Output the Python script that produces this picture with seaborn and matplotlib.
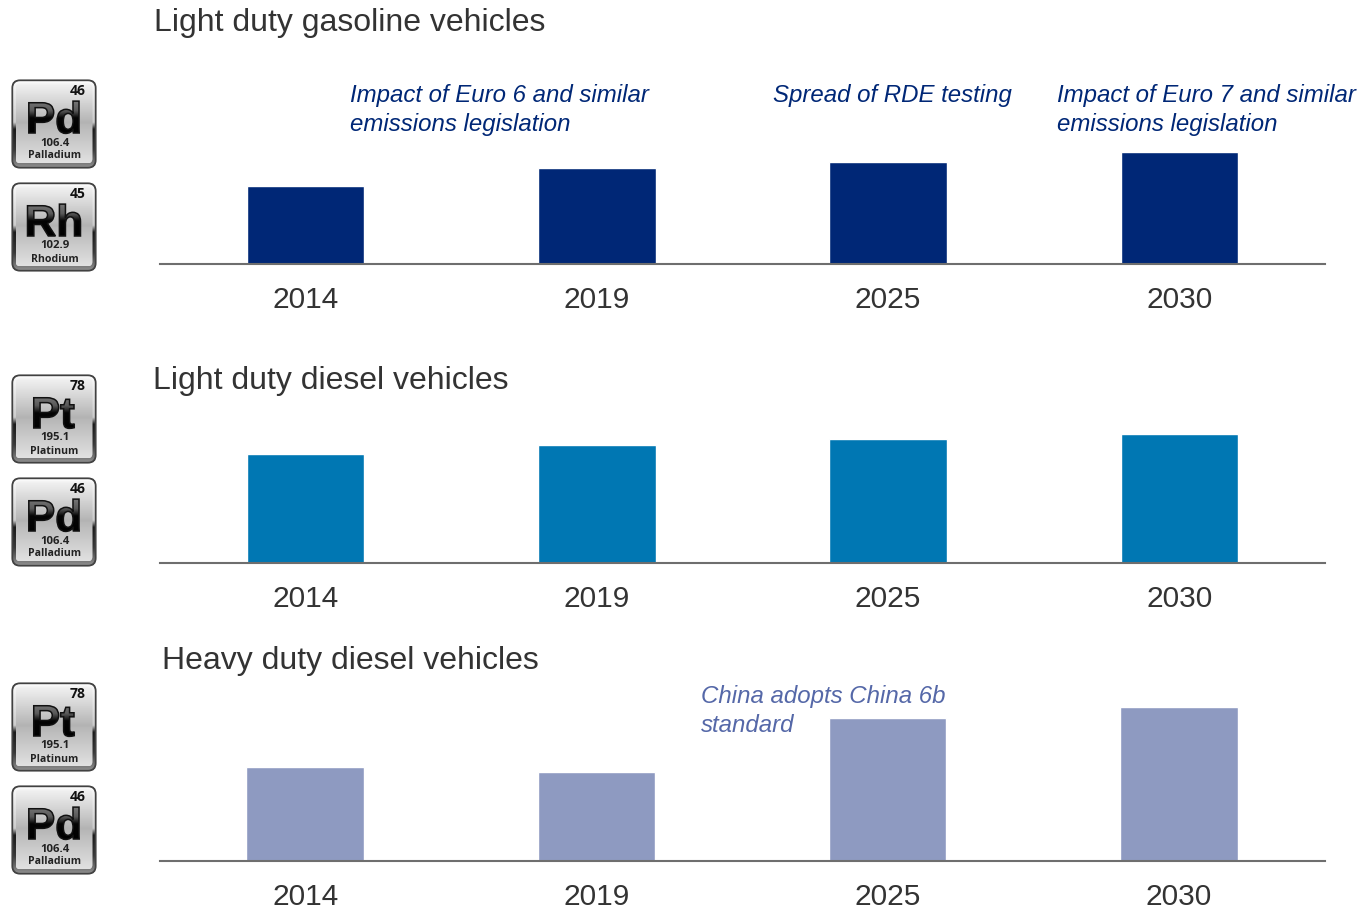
import matplotlib
matplotlib.use("Agg")
import matplotlib.pyplot as plt
import numpy as np
import pandas as pd
import seaborn as sns
from matplotlib.font_manager import FontProperties
from matplotlib.patches import FancyBboxPatch, PathPatch
from matplotlib.textpath import TextPath
from matplotlib.transforms import Affine2D

W, H = 1363, 910

years = ["2014", "2019", "2025", "2030"]
gasoline = [78, 96, 102, 112]
diesel = [109, 118, 124, 129]
heavy = [94, 89, 143, 154]

sns.set_theme(style="white")
plt.rcParams["font.family"] = ["Liberation Sans", "DejaVu Sans"]

fig = plt.figure(figsize=(W / 100, H / 100), dpi=100, facecolor="white")

# full figure axes in pixel coords, used for the element tiles
bg = fig.add_axes([0, 0, 1, 1], zorder=0)
bg.set_xlim(0, W)
bg.set_ylim(H, 0)
bg.axis("off")


def grad(stops, x0, y0, x1, y1, clip, zorder):
    ys = np.linspace(0, 1, 120)
    pos = [s[0] for s in stops]
    vals = [s[1] for s in stops]
    col = np.interp(ys, pos, vals).reshape(-1, 1)
    im = bg.imshow(col, extent=(x0, x1, y1, y0), cmap="gray", vmin=0, vmax=1,
                   aspect="auto", zorder=zorder, interpolation="bilinear")
    im.set_clip_path(clip)


def glyph(s, cx, base, size, weight="bold", family="Liberation Sans"):
    fp = FontProperties(family=family, weight=weight)
    tp = TextPath((0, 0), s, size=size, prop=fp)
    ext = tp.get_extents()
    tr = Affine2D().translate(-(ext.x0 + ext.x1) / 2, 0).scale(1, -1).translate(cx, base)
    return tp.transformed(tr)


def tile(x, y, num, sym, mass, name):
    w, h = 84, 88
    outer = FancyBboxPatch((x, y), w, h, boxstyle="round,pad=0,rounding_size=8",
                           fc="#4a4a4a", ec="#3a3a3a", lw=0.8, zorder=2)
    bg.add_patch(outer)
    ring = FancyBboxPatch((x + 1.2, y + 1.2), w - 2.4, h - 2.4, boxstyle="round,pad=0,rounding_size=7",
                          fc="none", ec="none", zorder=3, transform=bg.transData)
    bg.add_patch(ring)
    grad([(0, .98), (.48, .8), (.56, .1), (.8, .22), (1, .55)],
         x + 1.2, y + 1.2, x + w - 1.2, y + h - 1.2, ring, 3)
    inner = FancyBboxPatch((x + 3.5, y + 3.5), w - 7, h - 8, boxstyle="round,pad=0,rounding_size=5",
                           fc="none", ec="none", zorder=4, transform=bg.transData)
    bg.add_patch(inner)
    grad([(0, .95), (.5, .7), (.52, .72), (1, .88)],
         x + 3.5, y + 3.5, x + w - 3.5, y + h - 4.5, inner, 4)

    # big symbol, dark at the bottom and silver at the top
    path = glyph(sym, x + 42, y + 53, 44)
    p = PathPatch(path, fc="none", ec="none", zorder=5)
    bg.add_patch(p)
    grad([(0, .5), (.35, .35), (.55, .02), (1, 0)], x, y + 18, x + w, y + 54, p, 5)
    bg.add_patch(PathPatch(path, fc="none", ec="#111111", lw=1.1, zorder=6))

    bg.text(x + w - 10, y + 11, num, ha="right", va="center", fontsize=10,
            fontweight="bold", color="#111111", family="Open Sans", zorder=7)
    bg.text(x + 42.5, y + 63, mass, ha="center", va="center", fontsize=8.2,
            fontweight="bold", color="#222222", family="Open Sans", zorder=7)
    bg.text(x + 42.5, y + 76, name, ha="center", va="center", fontsize=7.6,
            fontweight="bold", color="#222222", family="Open Sans", zorder=7)


tile(12, 80, "46", "Pd", "106.4", "Palladium")
tile(12, 183, "45", "Rh", "102.9", "Rhodium")
tile(12, 375, "78", "Pt", "195.1", "Platinum")
tile(12, 478, "46", "Pd", "106.4", "Palladium")
tile(12, 683, "78", "Pt", "195.1", "Platinum")
tile(12, 786, "46", "Pd", "106.4", "Palladium")
bg.set_xlim(0, W)
bg.set_ylim(H, 0)


def panel(vals, color, base, left=160, right=1325, top=170):
    ax = fig.add_axes([left / W, 1 - base / H, (right - left) / W, top / H], zorder=1)
    ax.patch.set_alpha(0)
    df = pd.DataFrame({"year": years, "val": vals})
    sns.barplot(data=df, x="year", y="val", color=color, saturation=1, width=0.403, ax=ax)
    ax.set_ylim(0, top)
    ax.set_xlabel("")
    ax.set_ylabel("")
    ax.set_yticks([])
    sns.despine(ax=ax, left=True)
    ax.spines["bottom"].set_color("#6e6e6e")
    ax.spines["bottom"].set_linewidth(1.5)
    ax.tick_params(axis="x", length=0, pad=16, labelsize=21.5, labelcolor="#333333")
    return ax


panel(gasoline, "#002776", 264)
panel(diesel, "#0077b3", 563)
panel(heavy, "#8e9ac1", 861, left=159.5, right=1324.5)


def label(x, y, s, **kw):
    fig.text(x / W, 1 - y / H, s, va="center", ha="left", **kw)


label(154, 23, "Light duty gasoline vehicles", fontsize=23, color="#333333")
label(153, 381, "Light duty diesel vehicles", fontsize=23, color="#333333")
label(162, 661, "Heavy duty diesel vehicles", fontsize=23, color="#333333")

navy = "#002776"
label(350, 95.5, "Impact of Euro 6 and similar", fontsize=17.3, style="italic", color=navy)
label(350, 124.5, "emissions legislation", fontsize=17.3, style="italic", color=navy)
label(773, 95.5, "Spread of RDE testing", fontsize=17.3, style="italic", color=navy)
label(1057, 95.5, "Impact of Euro 7 and similar", fontsize=17.3, style="italic", color=navy)
label(1057, 124.5, "emissions legislation", fontsize=17.3, style="italic", color=navy)
label(701, 696.5, "China adopts China 6b", fontsize=17.3, style="italic", color="#5568a8")
label(701, 725.5, "standard", fontsize=17.3, style="italic", color="#5568a8")

fig.savefig("out.png", dpi=100)
